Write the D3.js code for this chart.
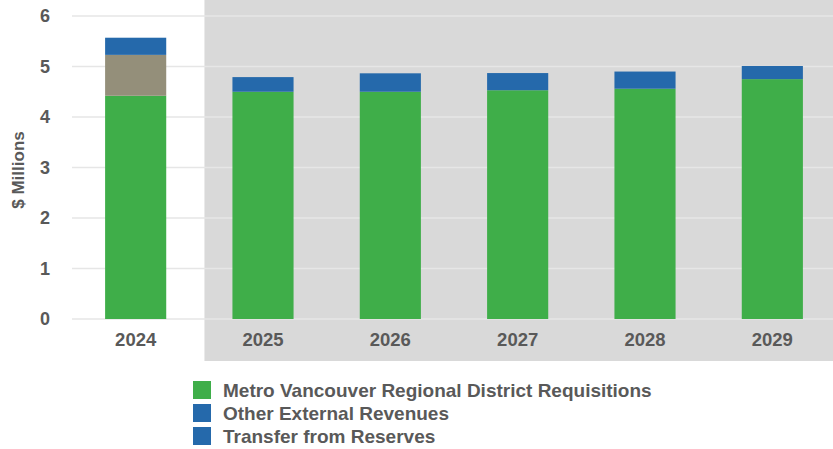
<!DOCTYPE html>
<html>
<head>
<meta charset="utf-8">
<script src="https://cdn.jsdelivr.net/npm/d3@7"></script>
<style>
  html, body { margin: 0; padding: 0; background: #fff; }
  svg { display: block; font-family: "Liberation Sans", Arial, sans-serif; }
</style>
</head>
<body>
<div id="chart"></div>
<script>
const years = ["2024", "2025", "2026", "2027", "2028", "2029"];
const requisitions = [4.42, 4.50, 4.50, 4.53, 4.56, 4.75];
const reserves = [0.81, 0, 0, 0, 0, 0];
const otherRevenues = [0.34, 0.29, 0.365, 0.34, 0.34, 0.26];
const yTicks = [0, 1, 2, 3, 4, 5, 6];
const legendLabels = [
  "Metro Vancouver Regional District Requisitions",
  "Other External Revenues",
  "Transfer from Reserves"
];

const width = 833;
const height = 449;
const textColor = "#595959";

const svg = d3.select("#chart")
  .append("svg")
  .attr("width", width)
  .attr("height", height);

const x = d3.scaleBand()
  .domain(years)
  .range([72, 836])
  .paddingInner(0.52)
  .paddingOuter(0.26);

const y = d3.scaleLinear()
  .domain([0, 6])
  .range([319, 16]);

// forecast years shaded
const shadeX = x("2025") - 28;
svg.append("rect")
  .attr("x", shadeX)
  .attr("y", 0)
  .attr("width", width - shadeX)
  .attr("height", 361)
  .attr("fill", "#d9d9d9");

// grid
svg.append("g")
  .selectAll("line")
  .data(yTicks)
  .join("line")
  .attr("x1", 72)
  .attr("x2", width)
  .attr("y1", d => y(d))
  .attr("y2", d => y(d))
  .attr("stroke", "#e6e6e6")
  .attr("stroke-width", 1.5);

// y axis
const yAxis = svg.append("g")
  .attr("transform", "translate(50,0)")
  .call(d3.axisLeft(y).tickValues(yTicks).tickSize(0).tickPadding(0).tickFormat(d3.format("d")));
yAxis.select(".domain").remove();
yAxis.selectAll("text")
  .attr("fill", textColor)
  .attr("font-size", 18)
  .attr("font-weight", "bold")
  .attr("font-family", "Liberation Sans, Arial, sans-serif");

svg.append("text")
  .attr("transform", "translate(24,170) rotate(-90)")
  .attr("text-anchor", "middle")
  .attr("fill", textColor)
  .attr("font-size", 17)
  .attr("font-weight", "bold")
  .text("$ Millions");

// x axis
const xAxis = svg.append("g")
  .attr("transform", "translate(0,333)")
  .call(d3.axisBottom(x).tickSize(0).tickPadding(0));
xAxis.select(".domain").remove();
xAxis.selectAll("text")
  .attr("fill", textColor)
  .attr("font-size", 18.5)
  .attr("font-weight", "bold")
  .attr("font-family", "Liberation Sans, Arial, sans-serif");

// stacked bars
const rows = years.map((yr, i) => ({
  year: yr,
  requisitions: requisitions[i],
  reserves: reserves[i],
  other: otherRevenues[i]
}));
const keys = ["requisitions", "reserves", "other"];
const barColors = { requisitions: "#3fae49", reserves: "#948f7a", other: "#2569ab" };
const series = d3.stack().keys(keys)(rows);

svg.append("g")
  .selectAll("g")
  .data(series)
  .join("g")
  .attr("fill", d => barColors[d.key])
  .selectAll("rect")
  .data(d => d.filter(p => p[1] - p[0] > 0))
  .join("rect")
  .attr("x", d => x(d.data.year))
  .attr("width", x.bandwidth())
  .attr("y", d => y(d[1]))
  .attr("height", d => y(d[0]) - y(d[1]));

// legend
const legendColors = ["#3fae49", "#2569ab", "#2569ab"];
const legend = svg.append("g")
  .selectAll("g")
  .data(legendLabels)
  .join("g")
  .attr("transform", (d, i) => `translate(193,${381 + i * 23})`);
legend.append("rect")
  .attr("width", 18)
  .attr("height", 18)
  .attr("fill", (d, i) => legendColors[i]);
legend.append("text")
  .attr("x", 30)
  .attr("y", 16)
  .attr("fill", textColor)
  .attr("font-size", 19)
  .attr("font-weight", "bold")
  .text(d => d);
</script>
</body>
</html>
